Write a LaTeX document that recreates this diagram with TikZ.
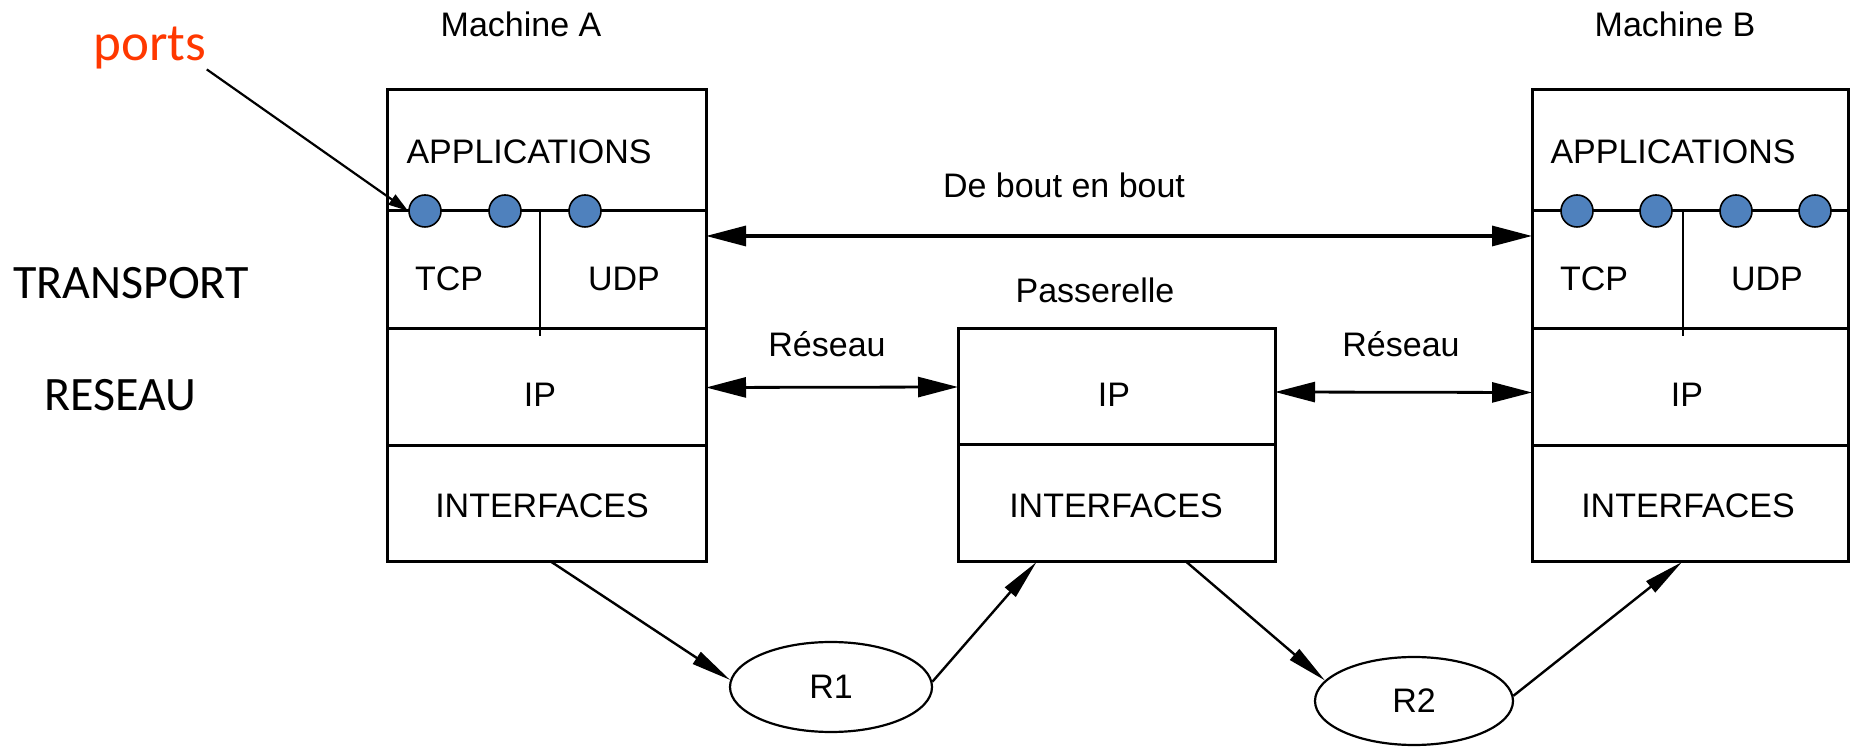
\documentclass[tikz,border=0pt]{standalone}
\usepackage{fontspec}
\setmainfont{Liberation Sans}
\newfontfamily\calib{Carlito}
\usetikzlibrary{arrows.meta,shapes.geometric}
\definecolor{portred}{RGB}{255,56,0}
\definecolor{portblue}{RGB}{79,129,189}

\begin{document}
\begin{tikzpicture}[x=0.5pt,y=-0.5pt,
  layerbox/.style={draw,line width=1.5pt,inner sep=0pt,outer sep=0pt},
  lbl/.style={inner sep=0pt,font=\fontsize{17pt}{20pt}\selectfont},
  side/.style={inner sep=0pt,font=\calib\fontsize{24pt}{28pt}\selectfont},
  port/.style={circle,draw,line width=0.8pt,fill=portblue,minimum size=16pt,inner sep=0pt},
  router/.style={ellipse,draw,line width=1.1pt,inner sep=0pt,font=\fontsize{17pt}{20pt}\selectfont},
  bigarrow/.style={line width=1.6pt,{Triangle[length=20pt,width=10pt]}-{Triangle[length=20pt,width=10pt]}},
  netarrow/.style={line width=1.4pt,{Triangle[length=20pt,width=10pt]}-{Triangle[length=20pt,width=10pt]}},
  linkarrow/.style={line width=1.2pt,-{Triangle[length=20pt,width=7pt]}},
  divider/.style={line width=1.1pt}]

\fill[white] (0,0) rectangle (1857,747);
\useasboundingbox (0,0) rectangle (1857,747);

% Machine A stack
\node[layerbox,minimum width=159.5pt,minimum height=60.5pt] (appA)   at (546.5,150.5) {};
\node[layerbox,minimum width=159.5pt,minimum height=59pt]   (transA) at (546.5,270) {};
\node[layerbox,minimum width=159.5pt,minimum height=58.5pt] (ipA)    at (546.5,387.5) {};
\node[layerbox,minimum width=159.5pt,minimum height=58pt]   (ifA)    at (546.5,504) {};
\coordinate (divA) at (540,211);
\draw[divider] (divA) -- ++(0,125);

% Machine B stack
\node[layerbox,minimum width=158pt,minimum height=60.5pt] (appB)   at (1690,150.5) {};
\node[layerbox,minimum width=158pt,minimum height=59pt]   (transB) at (1690,270) {};
\node[layerbox,minimum width=158pt,minimum height=58.5pt] (ipB)    at (1690,387.5) {};
\node[layerbox,minimum width=158pt,minimum height=58pt]   (ifB)    at (1690,504) {};
\coordinate (divB) at (1683,211);
\draw[divider] (divB) -- ++(0,125);

% Gateway stack
\node[layerbox,minimum width=158.5pt,minimum height=58pt]   (ipP) at (1116.5,387) {};
\node[layerbox,minimum width=158.5pt,minimum height=58.5pt] (ifP) at (1116.5,503.5) {};

% Titles and layer names
\node[lbl] (titleA) at (521,24) {Machine A};
\node[lbl] (titleB) at (1675,24) {Machine B};
\node[lbl] (titleP) at (1095,290) {Passerelle};

\node[lbl] (appAt) at (529,152) {APPLICATIONS};
\node[lbl] (tcpA)  at (449,279) {TCP};
\node[lbl] (udpA)  at (624,279) {UDP};
\node[lbl] (ipAt)  at (540,395) {IP};
\node[lbl] (ifAt)  at (542,506) {INTERFACES};

\node[lbl] (appBt) at (1673,152) {APPLICATIONS};
\node[lbl] (tcpB)  at (1594,279) {TCP};
\node[lbl] (udpB)  at (1767,279) {UDP};
\node[lbl] (ipBt)  at (1687,395) {IP};
\node[lbl] (ifBt)  at (1688,506) {INTERFACES};

\node[lbl] (ipPt)  at (1114,395) {IP};
\node[lbl] (ifPt)  at (1116,506) {INTERFACES};

\node[side] (transport) at (131,283) {TRANSPORT};
\node[side] (reseau)    at (120,395) {RESEAU};
\node[side,text=portred,font=\calib\fontsize{26.5pt}{31pt}\selectfont] (ports) at (150,48) {ports};

% Ports
\node[port] (pA1) at (425,211) {};
\node[port] (pA2) at (505,211) {};
\node[port] (pA3) at (585,211) {};
\node[port] (pB1) at (1577,211) {};
\node[port] (pB2) at (1656,211) {};
\node[port] (pB3) at (1736,211) {};
\node[port] (pB4) at (1815,211) {};

\draw[line width=1.1pt,-{Triangle[length=10pt,width=6pt]}] (ports.south east) -- (pA1.west);

% End-to-end and network arrows
\node[lbl] (bout) at (1064,185) {De bout en bout};
\draw[bigarrow] ([yshift=17pt]transA.east) -- ([yshift=17pt]transB.west);

\node[lbl] (resL) at (827,344) {Réseau};
\node[lbl] (resR) at (1401,344) {Réseau};
\draw[netarrow] (ipA.east) -- (ipP.west);
\draw[netarrow] ([yshift=-2.5pt]ipP.east) -- ([yshift=-2.5pt]ipB.west);

% Routers
\node[router,minimum width=101pt,minimum height=45pt] (R1) at (831,687) {R1};
\node[router,minimum width=99pt,minimum height=44pt]  (R2) at (1414,701) {R2};

\draw[linkarrow] ([xshift=2.5pt]ifA.south) -- (R1.176);
\draw[linkarrow] (R1.3) -- ([xshift=-40pt]ifP.south);
\draw[linkarrow] ([xshift=35pt]ifP.south) -- (R2.167);
\draw[linkarrow] (R2.3) -- ([xshift=-4pt]ifB.south);

\end{tikzpicture}
\end{document}
